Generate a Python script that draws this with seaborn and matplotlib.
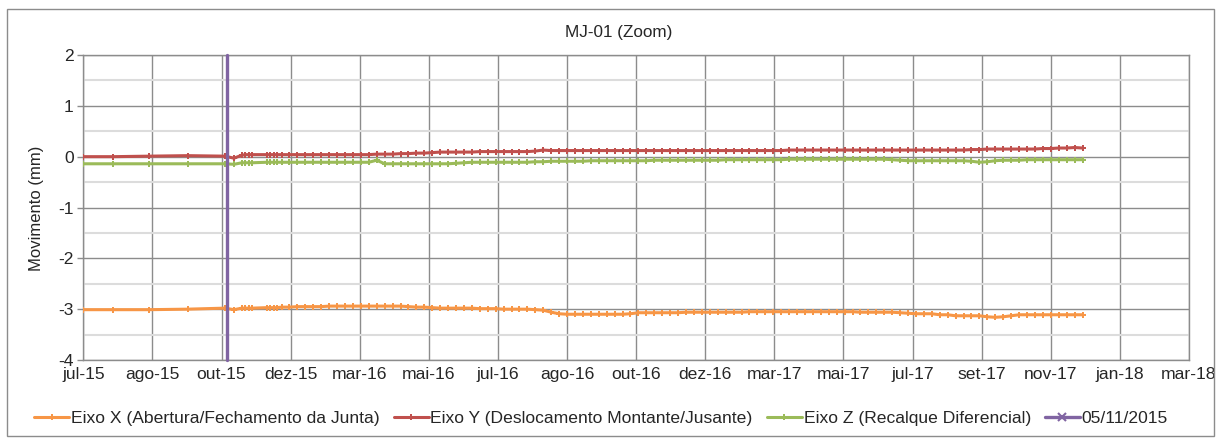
import numpy as np
import pandas as pd
import matplotlib
matplotlib.use('Agg')
import matplotlib.pyplot as plt
from matplotlib.patches import Rectangle
from matplotlib.lines import Line2D
from matplotlib.ticker import MultipleLocator
import seaborn as sns

# ---------------- data ----------------
dates = [
    '2015-07-01', '2015-07-27', '2015-08-28', '2015-10-01', '2015-11-03', '2015-11-11',
    '2015-11-18', '2015-11-21', '2015-11-24', '2015-11-27', '2015-12-10', '2015-12-13',
    '2015-12-16', '2015-12-19', '2015-12-23', '2015-12-30',
    '2016-01-06', '2016-01-13', '2016-01-20', '2016-01-27',
    '2016-02-03', '2016-02-10', '2016-02-17', '2016-02-24',
    '2016-03-02', '2016-03-09', '2016-03-16', '2016-03-23', '2016-03-30',
    '2016-04-06', '2016-04-13', '2016-04-20', '2016-04-27',
    '2016-05-04', '2016-05-11', '2016-05-18', '2016-05-25',
    '2016-06-01', '2016-06-08', '2016-06-15', '2016-06-22', '2016-06-29',
    '2016-07-06', '2016-07-13', '2016-07-20', '2016-07-27',
    '2016-08-03', '2016-08-10', '2016-08-17', '2016-08-24', '2016-08-31',
    '2016-09-07', '2016-09-14', '2016-09-21', '2016-09-28',
    '2016-10-05', '2016-10-12', '2016-10-19', '2016-10-26',
    '2016-11-02', '2016-11-09', '2016-11-16', '2016-11-23', '2016-11-30',
    '2016-12-07', '2016-12-14', '2016-12-21', '2016-12-28',
    '2017-01-04', '2017-01-11', '2017-01-18', '2017-01-25',
    '2017-02-01', '2017-02-08', '2017-02-15', '2017-02-22',
    '2017-03-01', '2017-03-08', '2017-03-15', '2017-03-22', '2017-03-29',
    '2017-04-05', '2017-04-12', '2017-04-19', '2017-04-26',
    '2017-05-03', '2017-05-10', '2017-05-17', '2017-05-24', '2017-05-31',
    '2017-06-07', '2017-06-14', '2017-06-21', '2017-06-28',
    '2017-07-05', '2017-07-12', '2017-07-19', '2017-07-26',
    '2017-08-02', '2017-08-09', '2017-08-16', '2017-08-23', '2017-08-30',
    '2017-09-06', '2017-09-13', '2017-09-20', '2017-09-27',
    '2017-10-04', '2017-10-11', '2017-10-18', '2017-10-25',
    '2017-11-01', '2017-11-08', '2017-11-15', '2017-11-22', '2017-11-29',
]

eixo_x = [
    -3.01, -3.01, -3.01, -3.00, -2.98, -3.01,
    -2.98, -2.98, -2.98, -2.98, -2.97, -2.97, -2.97, -2.97, -2.96, -2.96,
    -2.95, -2.95, -2.95, -2.95,
    -2.94, -2.94, -2.94, -2.94,
    -2.94, -2.94, -2.94, -2.94, -2.94,
    -2.94, -2.95, -2.96, -2.96,
    -2.97, -2.98, -2.98, -2.98,
    -2.98, -2.98, -2.99, -2.99, -2.99,
    -3.00, -3.00, -3.00, -3.00,
    -3.01, -3.02, -3.06, -3.09, -3.10,
    -3.10, -3.10, -3.10, -3.10,
    -3.10, -3.10, -3.10, -3.09,
    -3.07, -3.07, -3.07, -3.07, -3.07,
    -3.07, -3.06, -3.06, -3.06,
    -3.06, -3.06, -3.06, -3.06,
    -3.06, -3.05, -3.05, -3.05,
    -3.05, -3.05, -3.05, -3.05, -3.05,
    -3.05, -3.05, -3.05, -3.05,
    -3.05, -3.05, -3.06, -3.06, -3.06,
    -3.06, -3.06, -3.07, -3.08,
    -3.09, -3.09, -3.09, -3.11,
    -3.11, -3.13, -3.13, -3.13, -3.13,
    -3.15, -3.16, -3.15, -3.13,
    -3.11, -3.11, -3.11, -3.11,
    -3.11, -3.11, -3.11, -3.11, -3.11,
]

eixo_y = [
    0.00, 0.00, 0.01, 0.02, 0.01, -0.03,
    0.03, 0.04, 0.04, 0.04, 0.04, 0.04, 0.04, 0.04, 0.04, 0.04,
    0.04, 0.04, 0.04, 0.04,
    0.04, 0.04, 0.04, 0.04,
    0.04, 0.04, 0.05, 0.05, 0.05,
    0.06, 0.06, 0.07, 0.07,
    0.08, 0.09, 0.09, 0.09,
    0.09, 0.09, 0.10, 0.10, 0.10,
    0.10, 0.10, 0.10, 0.10,
    0.11, 0.13, 0.12, 0.12, 0.12,
    0.12, 0.12, 0.12, 0.12,
    0.12, 0.12, 0.12, 0.12,
    0.12, 0.12, 0.12, 0.12, 0.12,
    0.12, 0.12, 0.12, 0.12,
    0.12, 0.12, 0.12, 0.12,
    0.12, 0.12, 0.12, 0.12,
    0.12, 0.12, 0.13, 0.13, 0.13,
    0.13, 0.13, 0.13, 0.13,
    0.13, 0.13, 0.13, 0.13, 0.13,
    0.13, 0.13, 0.13, 0.13,
    0.13, 0.13, 0.13, 0.13,
    0.13, 0.13, 0.13, 0.14, 0.14,
    0.15, 0.15, 0.15, 0.15,
    0.15, 0.15, 0.15, 0.16,
    0.16, 0.17, 0.17, 0.18, 0.17,
]

eixo_z = [
    -0.14, -0.14, -0.14, -0.14, -0.14, -0.15,
    -0.12, -0.12, -0.12, -0.12, -0.11, -0.11, -0.11, -0.11, -0.11, -0.11,
    -0.11, -0.11, -0.11, -0.11,
    -0.11, -0.11, -0.11, -0.11,
    -0.11, -0.11, -0.07, -0.14, -0.14,
    -0.14, -0.14, -0.14, -0.14,
    -0.14, -0.14, -0.14, -0.13,
    -0.12, -0.11, -0.11, -0.11, -0.11,
    -0.11, -0.11, -0.11, -0.11,
    -0.10, -0.10, -0.09, -0.09, -0.09,
    -0.09, -0.09, -0.08, -0.08,
    -0.08, -0.08, -0.08, -0.08,
    -0.08, -0.08, -0.07, -0.07, -0.07,
    -0.07, -0.07, -0.07, -0.07,
    -0.07, -0.07, -0.06, -0.06,
    -0.06, -0.06, -0.06, -0.06,
    -0.06, -0.06, -0.05, -0.05, -0.05,
    -0.05, -0.05, -0.05, -0.05,
    -0.05, -0.05, -0.05, -0.05, -0.05,
    -0.05, -0.06, -0.07, -0.08,
    -0.08, -0.08, -0.08, -0.08,
    -0.08, -0.08, -0.08, -0.09, -0.11,
    -0.10, -0.08, -0.07, -0.07,
    -0.07, -0.06, -0.06, -0.06,
    -0.06, -0.06, -0.06, -0.06, -0.06,
]

marco_date = '2015-11-05'
marco_y = [2, -4]

series_names = [
    'Eixo X (Abertura/Fechamento da Junta)',
    'Eixo Y (Deslocamento Montante/Jusante)',
    'Eixo Z (Recalque Diferencial)',
]
marco_name = '05/11/2015'

xtick_labels = ['jul-15', 'ago-15', 'out-15', 'dez-15', 'mar-16', 'mai-16', 'jul-16',
                'ago-16', 'out-16', 'dez-16', 'mar-17', 'mai-17', 'jul-17', 'set-17',
                'nov-17', 'jan-18', 'mar-18']
axis_start = '2015-07-01'
tick_step_days = 61

colors = ['#F79646', '#C0504D', '#9BBB59']
purple = '#8064A2'

# ---------------- figure ----------------
sns.set_theme(style='white')
plt.rcParams['font.family'] = ['Liberation Sans', 'DejaVu Sans']

FS = 12.6
fig = plt.figure(figsize=(12.21, 4.41), dpi=100)
ax = fig.add_axes([83.3 / 1221, 1 - 360 / 441, (1189 - 83.3) / 1221, 305 / 441])

t = pd.to_datetime(dates)
for vals, name, c in zip([eixo_x, eixo_y, eixo_z], series_names, colors):
    sns.lineplot(x=t, y=vals, ax=ax, color=c, linewidth=2.2, marker='P',
                 markersize=5, markeredgewidth=0, estimator=None, zorder=3)

md = pd.to_datetime([marco_date, marco_date])
sns.lineplot(x=md, y=marco_y, ax=ax, color=purple, linewidth=2.4,
             estimator=None, sort=False, zorder=4, clip_on=False)

start = pd.Timestamp(axis_start)
tick_pos = [start + pd.Timedelta(days=tick_step_days * i) for i in range(len(xtick_labels))]
ax.set_xlim(tick_pos[0], tick_pos[-1])
ax.set_xticks(tick_pos)
ax.set_xticklabels(xtick_labels, fontsize=FS)

ax.set_ylim(-4, 2)
ax.yaxis.set_major_locator(MultipleLocator(1))
ax.yaxis.set_minor_locator(MultipleLocator(0.5))
ax.set_yticklabels([f'{v:g}' for v in ax.get_yticks()], fontsize=FS)

ax.grid(which='major', axis='both', color='#8c8c8c', linewidth=1.0, zorder=0)
ax.grid(which='minor', axis='y', color='#dcdcdc', linewidth=1.5, zorder=0)
ax.set_axisbelow(True)
for s in ax.spines.values():
    s.set_color('#8c8c8c')
    s.set_linewidth(1.0)
ax.tick_params(axis='y', which='major', length=4, color='#8c8c8c', width=1, pad=3, left=True)
ax.tick_params(axis='y', which='minor', length=0)
ax.tick_params(axis='x', length=0, pad=5)
ax.set_xlabel('')
ax.set_ylabel('')

fig.text(619 / 1221, 1 - 33 / 441, 'MJ-01 (Zoom)', ha='center', va='center', fontsize=12.3)
fig.text(37 / 1221, 1 - 208 / 441, 'Movimento (mm)', ha='center', va='center',
         rotation=90, fontsize=12)

handles = [Line2D([], [], color=c, linewidth=2.2, marker='P', markersize=5,
                  markeredgewidth=0) for c in colors]
handles.append(Line2D([], [], color=purple, linewidth=2.4, marker='x', markersize=6,
                      markeredgewidth=1.5))
fig.legend(handles, series_names + [marco_name], loc='center', ncol=4,
           bbox_to_anchor=(601 / 1221, 1 - 418 / 441), frameon=False, fontsize=FS,
           handlelength=2.0, handletextpad=0.1, columnspacing=0.8)

fig.patches.append(Rectangle((7 / 1221, 5 / 441), 1207 / 1221, 427 / 441,
                             transform=fig.transFigure, fill=False,
                             edgecolor='#8c8c8c', linewidth=1.0))

fig.savefig('out.png', dpi=100)
